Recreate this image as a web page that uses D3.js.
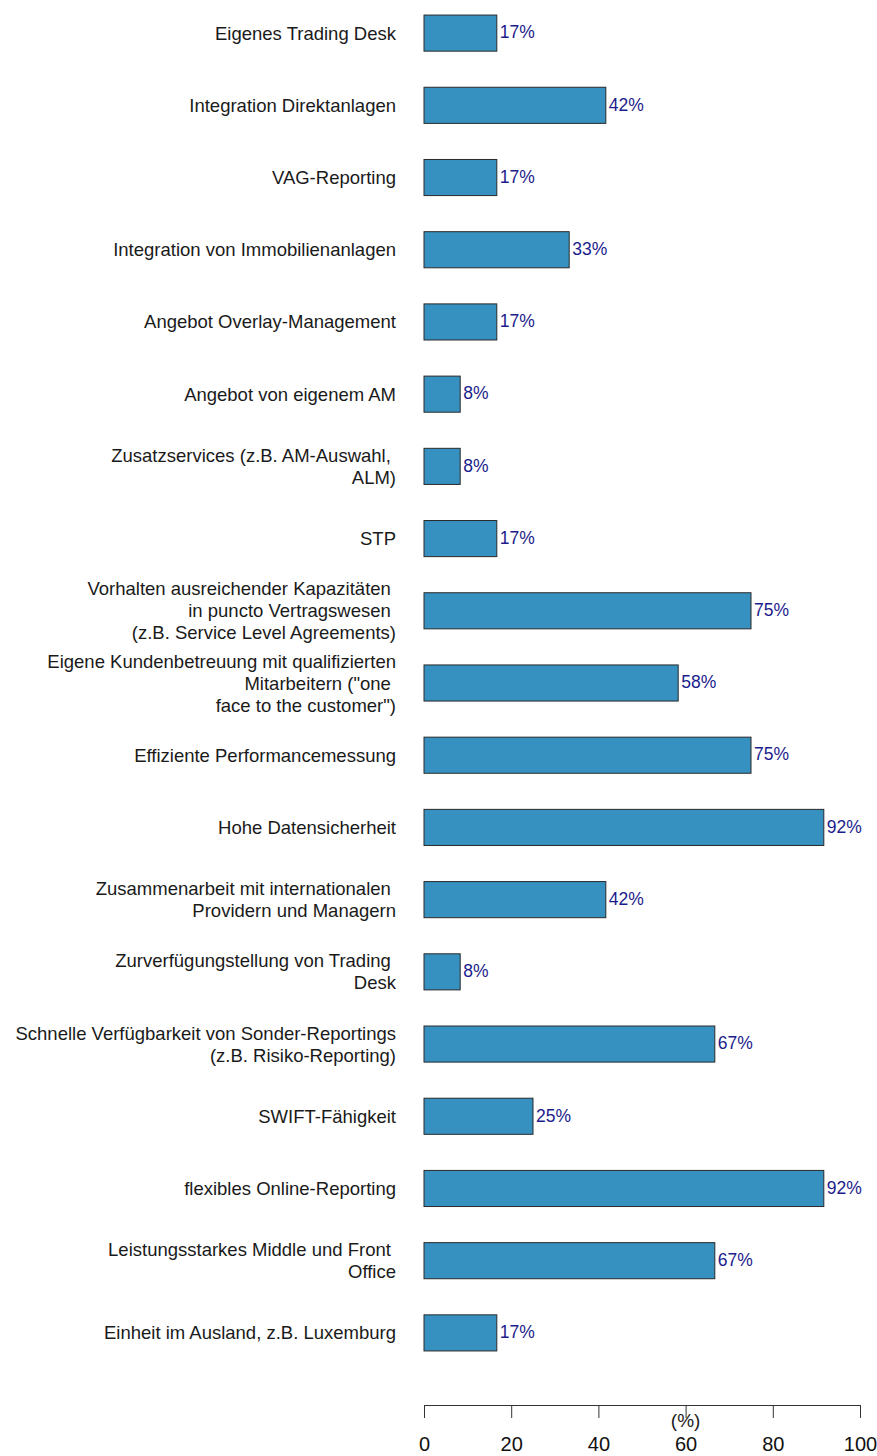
<!DOCTYPE html>
<html lang="en">
    <head>
        <meta charset="utf-8">
        <title>Bar Chart</title>
        <script type="text/javascript" src="https://d3js.org/d3.v7.min.js"></script>
        <style>
            body { margin: 0; background: #fff; }
            text { font-family: "Liberation Sans", Arial, Helvetica, sans-serif; white-space: pre; }
        </style>
    </head>
    <body>
        <div id="chart"></div>
        <script type="text/javascript">

            var w = 877;
            var h = 1456;
            var left = 424;
            var right = 860;

            // category labels (line breaks as in the picture)
            var categories = [
                "Eigenes Trading Desk",
                "Integration Direktanlagen",
                "VAG-Reporting",
                "Integration von Immobilienanlagen",
                "Angebot Overlay-Management",
                "Angebot von eigenem AM",
                "Zusatzservices (z.B. AM-Auswahl, \nALM)",
                "STP",
                "Vorhalten ausreichender Kapazitäten \nin puncto Vertragswesen \n(z.B. Service Level Agreements)",
                "Eigene Kundenbetreuung mit qualifizierten\nMitarbeitern (\"one \nface to the customer\")",
                "Effiziente Performancemessung",
                "Hohe Datensicherheit",
                "Zusammenarbeit mit internationalen \nProvidern und Managern",
                "Zurverfügungstellung von Trading \nDesk",
                "Schnelle Verfügbarkeit von Sonder-Reportings\n(z.B. Risiko-Reporting)",
                "SWIFT-Fähigkeit",
                "flexibles Online-Reporting",
                "Leistungsstarkes Middle und Front \nOffice",
                "Einheit im Ausland, z.B. Luxemburg"
            ];

            var values = [16.7, 41.7, 16.7, 33.3, 16.7, 8.3, 8.3, 16.7, 75, 58.3,
                          75, 91.7, 41.7, 8.3, 66.7, 25, 91.7, 66.7, 16.7];

            var valueLabels = ["17%", "42%", "17%", "33%", "17%", "8%", "8%", "17%", "75%", "58%",
                               "75%", "92%", "42%", "8%", "67%", "25%", "92%", "67%", "17%"];

            var xTicks = [0, 20, 40, 60, 80, 100];

            var dataset = categories.map(function(c, i) {
                return { cat: c, value: values[i], label: valueLabels[i] };
            });

            var xScale = d3.scaleLinear()
                .domain([0, 100])
                .range([left, right]);

            var yScale = d3.scaleBand()
                .domain(categories)
                .range([-3, 1369])
                .paddingInner(0.5)
                .paddingOuter(0.25);

            var svg = d3.select("#chart")
                .append("svg")
                .attr("width", w)
                .attr("height", h);

            // bars
            svg.selectAll("rect.bar")
                .data(dataset)
                .enter()
                .append("rect")
                .attr("class", "bar")
                .attr("x", xScale(0))
                .attr("y", function(d) { return yScale(d.cat); })
                .attr("width", function(d) { return xScale(d.value) - xScale(0); })
                .attr("height", yScale.bandwidth())
                .attr("fill", "#3690c0")
                .attr("stroke", "#2a2a2a")
                .attr("stroke-width", 1);

            // value labels
            svg.selectAll("text.val")
                .data(dataset)
                .enter()
                .append("text")
                .attr("class", "val")
                .attr("x", function(d) { return xScale(d.value) + 3; })
                .attr("y", function(d) { return yScale(d.cat) + yScale.bandwidth() / 2; })
                .attr("dy", "0.3em")
                .attr("fill", "#1c1c8c")
                .style("font-size", "17.5px")
                .text(function(d) { return d.label; });

            // category labels
            var lineH = 22;
            svg.selectAll("text.cat")
                .data(dataset)
                .enter()
                .append("text")
                .attr("class", "cat")
                .attr("text-anchor", "end")
                .attr("fill", "#1a1a1a")
                .style("font-size", "18.5px")
                .each(function(d) {
                    var lines = d.cat.split("\n");
                    var cy = yScale(d.cat) + yScale.bandwidth() / 2;
                    var t = d3.select(this);
                    lines.forEach(function(l, i) {
                        t.append("tspan")
                            .attr("x", 396)
                            .attr("y", cy + (i - (lines.length - 1) / 2) * lineH + 6.5)
                            .text(l);
                    });
                });

            // x axis
            var xAxis = d3.axisBottom(xScale)
                .tickValues(xTicks)
                .tickSize(13)
                .tickSizeOuter(0)
                .tickPadding(19);

            var ax = svg.append("g")
                .attr("transform", "translate(0,1405)")
                .call(xAxis);

            ax.select(".domain").attr("stroke", "#333");
            ax.selectAll(".tick line").attr("stroke", "#333");
            ax.selectAll(".tick text")
                .attr("fill", "#111")
                .style("font-size", "20px")
                .style("font-family", "'Liberation Sans', Arial, sans-serif");

            svg.append("text")
                .attr("x", xScale(60))
                .attr("y", 1427)
                .attr("text-anchor", "middle")
                .attr("fill", "#222")
                .style("font-size", "19px")
                .text("(%)");

        </script>
    </body>
</html>
